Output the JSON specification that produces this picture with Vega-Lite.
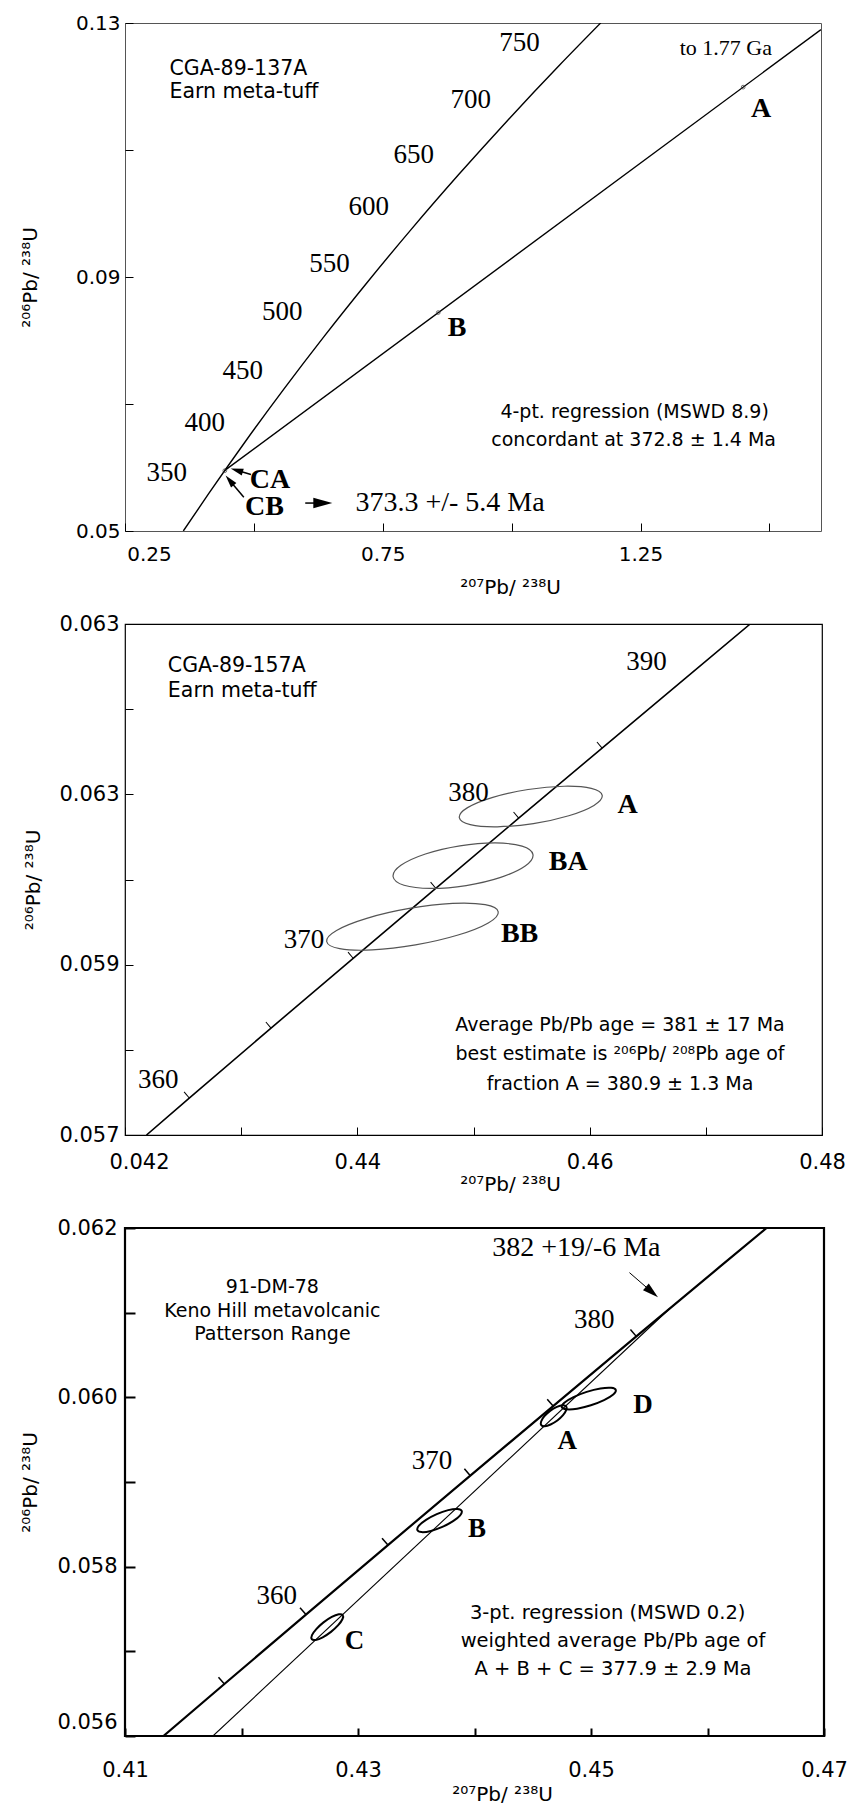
{
  "$schema": "https://vega.github.io/schema/vega-lite/v6.json",
  "background": "white",
  "padding": {"left": 18, "top": 12, "right": 5, "bottom": 5},
  "bounds": "flush",
  "spacing": 93,
  "config": {
    "axis": {"domain": false, "grid": false, "labelFont": "DejaVu Sans", "labelColor": "black", "tickColor": "black", "titleFont": "DejaVu Sans", "titleFontWeight": "normal", "titleColor": "black", "labelFlush": false, "labelOverlap": false, "titleFontSize": 20, "labelFontSize": 21, "tickWidth": 1}
  },
  "datasets": {
    "p1c": [
      {"age": 314.5, "x": 0.3631, "y": 0.0500}, {"age": 350, "x": 0.4116, "y": 0.05580}, {"age": 400, "x": 0.4828, "y": 0.06402},
      {"age": 450, "x": 0.5577, "y": 0.07230}, {"age": 500, "x": 0.6363, "y": 0.08065}, {"age": 550, "x": 0.7189, "y": 0.08906},
      {"age": 600, "x": 0.8056, "y": 0.09754}, {"age": 650, "x": 0.8968, "y": 0.10609}, {"age": 700, "x": 0.9925, "y": 0.11470},
      {"age": 750, "x": 1.0931, "y": 0.12338}, {"age": 788, "x": 1.1729, "y": 0.13002}
    ],
    "p1d": [{"x": 0.4436, "y": 0.05954}, {"x": 1.60, "y": 0.12896}],
    "p1p": [{"f": "A", "x": 1.449, "y": 0.1199}, {"f": "B", "x": 0.8576, "y": 0.0844}, {"f": "C", "x": 0.4436, "y": 0.0595}],
    "p1a": [
      {"id": "CA", "x": 0.4943, "y": 0.0589, "x2": 0.4667, "y2": 0.05956},
      {"id": "CB", "x": 0.4805, "y": 0.0553, "x2": 0.4530, "y2": 0.05796},
      {"id": "M", "x": 0.5996, "y": 0.0544, "x2": 0.6337, "y2": 0.0544}
    ],
    "p1t": [
      {"k": "name", "x": 0.3362, "y": 0.1227, "t": "CGA-89-137A"},
      {"k": "name", "x": 0.3362, "y": 0.1192, "t": "Earn meta-tuff"},
      {"k": "note", "x": 1.2385, "y": 0.0688, "t": "4-pt. regression (MSWD 8.9)"},
      {"k": "note", "x": 1.2366, "y": 0.0643, "t": "concordant at 372.8 ± 1.4 Ma"},
      {"k": "age", "x": 1.0154, "y": 0.1269, "t": "750"},
      {"k": "age", "x": 0.9206, "y": 0.1178, "t": "700"},
      {"k": "age", "x": 0.8101, "y": 0.1092, "t": "650"},
      {"k": "age", "x": 0.7227, "y": 0.1010, "t": "600"},
      {"k": "age", "x": 0.6469, "y": 0.0921, "t": "550"},
      {"k": "age", "x": 0.5552, "y": 0.0845, "t": "500"},
      {"k": "age", "x": 0.4785, "y": 0.0752, "t": "450"},
      {"k": "age", "x": 0.4048, "y": 0.0670, "t": "400"},
      {"k": "age", "x": 0.3310, "y": 0.0591, "t": "350"},
      {"k": "small", "x": 1.4155, "y": 0.1260, "t": "to 1.77 Ga"},
      {"k": "frac", "x": 1.4838, "y": 0.1164, "t": "A"},
      {"k": "frac", "x": 0.8943, "y": 0.0819, "t": "B"},
      {"k": "frac", "x": 0.5311, "y": 0.0580, "t": "CA"},
      {"k": "frac", "x": 0.5206, "y": 0.0538, "t": "CB"},
      {"k": "big", "x": 0.8805, "y": 0.0544, "t": "373.3 +/- 5.4 Ma"}
    ],
    "p2c": [
      {"age": 357.4, "x": 0.42185, "y": 0.0570}, {"age": 360, "x": 0.42553, "y": 0.057434}, {"age": 365, "x": 0.43257, "y": 0.058255},
      {"age": 370, "x": 0.43964, "y": 0.059075}, {"age": 375, "x": 0.44675, "y": 0.059897}, {"age": 380, "x": 0.45389, "y": 0.06072},
      {"age": 385, "x": 0.46107, "y": 0.061543}, {"age": 390, "x": 0.46828, "y": 0.062367}, {"age": 393.8, "x": 0.47382, "y": 0.0630}
    ],
    "p2e": [
      {"e": "A", "i": 0, "x": 0.46108, "y": 0.060987}, {"e": "A", "i": 1, "x": 0.46014, "y": 0.061070}, {"e": "A", "i": 2, "x": 0.45781, "y": 0.061095},
      {"e": "A", "i": 3, "x": 0.45470, "y": 0.061057}, {"e": "A", "i": 4, "x": 0.45166, "y": 0.060965}, {"e": "A", "i": 5, "x": 0.44949, "y": 0.060844},
      {"e": "A", "i": 6, "x": 0.44878, "y": 0.060727}, {"e": "A", "i": 7, "x": 0.44972, "y": 0.060645}, {"e": "A", "i": 8, "x": 0.45205, "y": 0.060619},
      {"e": "A", "i": 9, "x": 0.45516, "y": 0.060657}, {"e": "A", "i": 10, "x": 0.45820, "y": 0.060749}, {"e": "A", "i": 11, "x": 0.46037, "y": 0.060870},
      {"e": "BA", "i": 0, "x": 0.45512, "y": 0.060293}, {"e": "BA", "i": 1, "x": 0.45418, "y": 0.060392}, {"e": "BA", "i": 2, "x": 0.45188, "y": 0.060429},
      {"e": "BA", "i": 3, "x": 0.44883, "y": 0.060395}, {"e": "BA", "i": 4, "x": 0.44586, "y": 0.060299}, {"e": "BA", "i": 5, "x": 0.44375, "y": 0.060166},
      {"e": "BA", "i": 6, "x": 0.44308, "y": 0.060032}, {"e": "BA", "i": 7, "x": 0.44402, "y": 0.059932}, {"e": "BA", "i": 8, "x": 0.44632, "y": 0.059895},
      {"e": "BA", "i": 9, "x": 0.44937, "y": 0.059929}, {"e": "BA", "i": 10, "x": 0.45234, "y": 0.060025}, {"e": "BA", "i": 11, "x": 0.45445, "y": 0.060158},
      {"e": "BB", "i": 0, "x": 0.45213, "y": 0.059621}, {"e": "BB", "i": 1, "x": 0.45100, "y": 0.059704}, {"e": "BB", "i": 2, "x": 0.44820, "y": 0.059719},
      {"e": "BB", "i": 3, "x": 0.44447, "y": 0.059660}, {"e": "BB", "i": 4, "x": 0.44081, "y": 0.059544}, {"e": "BB", "i": 5, "x": 0.43821, "y": 0.059402},
      {"e": "BB", "i": 6, "x": 0.43736, "y": 0.059272}, {"e": "BB", "i": 7, "x": 0.43848, "y": 0.059188}, {"e": "BB", "i": 8, "x": 0.44128, "y": 0.059173},
      {"e": "BB", "i": 9, "x": 0.44501, "y": 0.059232}, {"e": "BB", "i": 10, "x": 0.44867, "y": 0.059348}, {"e": "BB", "i": 11, "x": 0.45127, "y": 0.059490}
    ],
    "p2t": [
      {"k": "name", "x": 0.42369, "y": 0.062508, "t": "CGA-89-157A"},
      {"k": "name", "x": 0.42369, "y": 0.062213, "t": "Earn meta-tuff"},
      {"k": "note", "x": 0.46261, "y": 0.058295, "t": "Average Pb/Pb age = 381 ± 17 Ma"},
      {"k": "note", "x": 0.46261, "y": 0.057948, "t": "best estimate is ²⁰⁶Pb/ ²⁰⁸Pb age of"},
      {"k": "note", "x": 0.46261, "y": 0.057599, "t": "fraction A = 380.9 ± 1.3 Ma"},
      {"k": "age", "x": 0.46489, "y": 0.062551, "t": "390"},
      {"k": "age", "x": 0.44956, "y": 0.061010, "t": "380"},
      {"k": "age", "x": 0.43541, "y": 0.059285, "t": "370"},
      {"k": "age", "x": 0.42287, "y": 0.057642, "t": "360"},
      {"k": "frac", "x": 0.46326, "y": 0.060879, "t": "A"},
      {"k": "frac", "x": 0.45815, "y": 0.060206, "t": "BA"},
      {"k": "frac", "x": 0.45397, "y": 0.059360, "t": "BB"}
    ],
    "p3c": [
      {"age": 351.25, "x": 0.4133, "y": 0.0560}, {"age": 355, "x": 0.41853, "y": 0.056614}, {"age": 360, "x": 0.42553, "y": 0.057434},
      {"age": 365, "x": 0.43257, "y": 0.058255}, {"age": 370, "x": 0.43964, "y": 0.059075}, {"age": 375, "x": 0.44675, "y": 0.059897},
      {"age": 380, "x": 0.45389, "y": 0.06072}, {"age": 385, "x": 0.46107, "y": 0.061543}, {"age": 387.78, "x": 0.46507, "y": 0.0620}
    ],
    "p3d": [{"x": 0.41755, "y": 0.056}, {"x": 0.45676, "y": 0.061049}],
    "p3e": [
      {"e": "C", "i": 0, "x": 0.42869, "y": 0.057429}, {"e": "C", "i": 1, "x": 0.42835, "y": 0.057437}, {"e": "C", "i": 2, "x": 0.42775, "y": 0.057406},
      {"e": "C", "i": 3, "x": 0.42704, "y": 0.057342}, {"e": "C", "i": 4, "x": 0.42642, "y": 0.057263}, {"e": "C", "i": 5, "x": 0.42605, "y": 0.057191},
      {"e": "C", "i": 6, "x": 0.42603, "y": 0.057143}, {"e": "C", "i": 7, "x": 0.42637, "y": 0.057135}, {"e": "C", "i": 8, "x": 0.42697, "y": 0.057166},
      {"e": "C", "i": 9, "x": 0.42768, "y": 0.057230}, {"e": "C", "i": 10, "x": 0.42830, "y": 0.057309}, {"e": "C", "i": 11, "x": 0.42867, "y": 0.057382},
      {"e": "B", "i": 0, "x": 0.43890, "y": 0.058659}, {"e": "B", "i": 1, "x": 0.43853, "y": 0.058682}, {"e": "B", "i": 2, "x": 0.43774, "y": 0.058668},
      {"e": "B", "i": 3, "x": 0.43676, "y": 0.058621}, {"e": "B", "i": 4, "x": 0.43584, "y": 0.058553}, {"e": "B", "i": 5, "x": 0.43523, "y": 0.058484},
      {"e": "B", "i": 6, "x": 0.43510, "y": 0.058431}, {"e": "B", "i": 7, "x": 0.43547, "y": 0.058408}, {"e": "B", "i": 8, "x": 0.43626, "y": 0.058422},
      {"e": "B", "i": 9, "x": 0.43724, "y": 0.058469}, {"e": "B", "i": 10, "x": 0.43816, "y": 0.058537}, {"e": "B", "i": 11, "x": 0.43877, "y": 0.058606},
      {"e": "A", "i": 0, "x": 0.44787, "y": 0.059894}, {"e": "A", "i": 1, "x": 0.44757, "y": 0.059907}, {"e": "A", "i": 2, "x": 0.44707, "y": 0.059887},
      {"e": "A", "i": 3, "x": 0.44649, "y": 0.059840}, {"e": "A", "i": 4, "x": 0.44600, "y": 0.059777}, {"e": "A", "i": 5, "x": 0.44572, "y": 0.059715},
      {"e": "A", "i": 6, "x": 0.44573, "y": 0.059672}, {"e": "A", "i": 7, "x": 0.44603, "y": 0.059659}, {"e": "A", "i": 8, "x": 0.44653, "y": 0.059679},
      {"e": "A", "i": 9, "x": 0.44711, "y": 0.059726}, {"e": "A", "i": 10, "x": 0.44760, "y": 0.059789}, {"e": "A", "i": 11, "x": 0.44788, "y": 0.059851},
      {"e": "D", "i": 0, "x": 0.45213, "y": 0.060086}, {"e": "D", "i": 1, "x": 0.45173, "y": 0.060112}, {"e": "D", "i": 2, "x": 0.45081, "y": 0.060104},
      {"e": "D", "i": 3, "x": 0.44963, "y": 0.060064}, {"e": "D", "i": 4, "x": 0.44850, "y": 0.060003}, {"e": "D", "i": 5, "x": 0.44771, "y": 0.059937},
      {"e": "D", "i": 6, "x": 0.44749, "y": 0.059884}, {"e": "D", "i": 7, "x": 0.44789, "y": 0.059859}, {"e": "D", "i": 8, "x": 0.44881, "y": 0.059866},
      {"e": "D", "i": 9, "x": 0.44999, "y": 0.059906}, {"e": "D", "i": 10, "x": 0.45112, "y": 0.059967}, {"e": "D", "i": 11, "x": 0.45191, "y": 0.060033}
    ],
    "p3a": [{"x": 0.45330, "y": 0.061473, "x2": 0.45523, "y2": 0.061243}],
    "p3t": [
      {"k": "name", "x": 0.42265, "y": 0.061301, "t": "91-DM-78"},
      {"k": "name", "x": 0.42265, "y": 0.061015, "t": "Keno Hill metavolcanic"},
      {"k": "name", "x": 0.42265, "y": 0.060743, "t": "Patterson Range"},
      {"k": "note", "x": 0.45143, "y": 0.057453, "t": "3-pt. regression (MSWD 0.2)"},
      {"k": "note", "x": 0.45189, "y": 0.057120, "t": "weighted average Pb/Pb age of"},
      {"k": "note", "x": 0.45189, "y": 0.056786, "t": "A + B + C = 377.9 ± 2.9 Ma"},
      {"k": "age", "x": 0.45028, "y": 0.060910, "t": "380"},
      {"k": "age", "x": 0.43635, "y": 0.059250, "t": "370"},
      {"k": "age", "x": 0.42302, "y": 0.057658, "t": "360"},
      {"k": "frac", "x": 0.45446, "y": 0.059910, "t": "D"},
      {"k": "frac", "x": 0.44796, "y": 0.059480, "t": "A"},
      {"k": "frac", "x": 0.44021, "y": 0.058440, "t": "B"},
      {"k": "frac", "x": 0.42971, "y": 0.057120, "t": "C"},
      {"k": "big", "x": 0.44875, "y": 0.061769, "t": "382 +19/-6 Ma"}
    ]
  },
  "vconcat": [
    {
      "width": 696, "height": 508,
      "view": {"stroke": "#555", "strokeWidth": 1},
      "encoding": {
        "x": {"field": "x", "type": "quantitative", "scale": {"domain": [0.25, 1.6], "nice": false, "zero": false},
          "axis": {"values": [0.25, 0.5, 0.75, 1, 1.25, 1.5], "labelExpr": "datum.value == 0.25 ? '0.25' : datum.value == 0.75 ? '0.75' : datum.value == 1.25 ? '1.25' : ''",
            "labelFontSize": 20, "tickSize": -8, "labelPadding": 21, "labelOffset": {"condition": {"test": "datum.value == 0.25", "value": 24}, "value": 0},
            "title": "²⁰⁷Pb/ ²³⁸U", "titleX": 385, "titleY": 56, "titleBaseline": "middle"}},
        "y": {"field": "y", "type": "quantitative", "scale": {"domain": [0.05, 0.13], "nice": false, "zero": false},
          "axis": {"values": [0.05, 0.07, 0.09, 0.11, 0.13], "labelExpr": "datum.value == 0.07 || datum.value == 0.11 ? '' : format(datum.value, '.2f')",
            "labelFontSize": 20, "tickSize": -8, "labelPadding": 13, "title": "²⁰⁶Pb/ ²³⁸U", "titleX": -95, "titleBaseline": "middle"}}
      },
      "layer": [
        {"data": {"name": "p1c"}, "mark": {"type": "line", "color": "black", "strokeWidth": 1.4, "interpolate": "monotone", "clip": true}},
        {"data": {"name": "p1d"}, "mark": {"type": "line", "color": "black", "strokeWidth": 1.4, "clip": true}},
        {"data": {"name": "p1p"}, "mark": {"type": "point", "shape": "circle", "size": 14, "filled": false, "stroke": "#333", "strokeWidth": 1}},
        {"data": {"name": "p1a"}, "mark": {"type": "rule", "color": "black", "strokeWidth": 1.5}, "encoding": {"x2": {"field": "x2"}, "y2": {"field": "y2"}}},
        {"data": {"name": "p1a"}, "transform": [{"filter": "datum.id == 'CA'"}], "mark": {"type": "point", "shape": "M0,-1L0.55,1L-0.55,1Z", "filled": true, "color": "black", "opacity": 1, "size": 160, "angle": 287},
          "encoding": {"x": {"field": "x2"}, "y": {"field": "y2"}}},
        {"data": {"name": "p1a"}, "transform": [{"filter": "datum.id == 'CB'"}], "mark": {"type": "point", "shape": "M0,-1L0.55,1L-0.55,1Z", "filled": true, "color": "black", "opacity": 1, "size": 160, "angle": 320},
          "encoding": {"x": {"field": "x2"}, "y": {"field": "y2"}}},
        {"data": {"name": "p1a"}, "transform": [{"filter": "datum.id == 'M'"}], "mark": {"type": "point", "shape": "M0,-1L0.55,1L-0.55,1Z", "filled": true, "color": "black", "opacity": 1, "size": 361, "angle": 90},
          "encoding": {"x": {"field": "x2"}, "y": {"field": "y2"}}},
        {"data": {"name": "p1t"}, "transform": [{"filter": "datum.k == 'name'"}], "mark": {"type": "text", "font": "DejaVu Sans", "fontSize": 20.5, "align": "left", "baseline": "middle", "color": "black"}, "encoding": {"text": {"field": "t"}}},
        {"data": {"name": "p1t"}, "transform": [{"filter": "datum.k == 'note'"}], "mark": {"type": "text", "font": "DejaVu Sans", "fontSize": 19, "align": "center", "baseline": "middle", "color": "black"}, "encoding": {"text": {"field": "t"}}},
        {"data": {"name": "p1t"}, "transform": [{"filter": "datum.k == 'age'"}], "mark": {"type": "text", "font": "Liberation Serif", "fontSize": 27, "align": "center", "baseline": "middle", "color": "black"}, "encoding": {"text": {"field": "t"}}},
        {"data": {"name": "p1t"}, "transform": [{"filter": "datum.k == 'small'"}], "mark": {"type": "text", "font": "Liberation Serif", "fontSize": 22, "align": "center", "baseline": "middle", "color": "black"}, "encoding": {"text": {"field": "t"}}},
        {"data": {"name": "p1t"}, "transform": [{"filter": "datum.k == 'frac'"}], "mark": {"type": "text", "font": "Liberation Serif", "fontSize": 28, "fontWeight": "bold", "align": "center", "baseline": "middle", "color": "black"}, "encoding": {"text": {"field": "t"}}},
        {"data": {"name": "p1t"}, "transform": [{"filter": "datum.k == 'big'"}], "mark": {"type": "text", "font": "Liberation Serif", "fontSize": 28, "align": "center", "baseline": "middle", "color": "black"}, "encoding": {"text": {"field": "t"}}}
      ]
    },
    {
      "width": 697, "height": 511,
      "view": {"stroke": "black", "strokeWidth": 1.2},
      "encoding": {
        "x": {"field": "x", "type": "quantitative", "scale": {"domain": [0.42, 0.48], "nice": false, "zero": false},
          "axis": {"values": [0.42, 0.43, 0.44, 0.45, 0.46, 0.47, 0.48], "labelExpr": "datum.value == 0.42 ? '0.042' : datum.value == 0.44 ? '0.44' : datum.value == 0.46 ? '0.46' : datum.value == 0.48 ? '0.48' : ''",
            "tickSize": -8, "labelPadding": 24, "labelOffset": {"condition": {"test": "datum.value == 0.42", "value": 14}, "value": 0},
            "title": "²⁰⁷Pb/ ²³⁸U", "titleX": 385, "titleY": 49, "titleBaseline": "middle"}},
        "y": {"field": "y", "type": "quantitative", "scale": {"domain": [0.057, 0.063], "nice": false, "zero": false},
          "axis": {"values": [0.057, 0.058, 0.059, 0.06, 0.061, 0.062, 0.063], "labelExpr": "datum.value == 0.057 ? '0.057' : datum.value == 0.059 ? '0.059' : (datum.value == 0.061 || datum.value == 0.063) ? '0.063' : ''",
            "tickSize": -8, "labelPadding": 14, "title": "²⁰⁶Pb/ ²³⁸U", "titleX": -92, "titleBaseline": "middle"}}
      },
      "layer": [
        {"data": {"name": "p2c"}, "mark": {"type": "line", "color": "black", "strokeWidth": 1.6, "clip": true}},
        {"data": {"name": "p2c"}, "transform": [{"filter": "datum.age >= 360 && datum.age <= 385"}], "mark": {"type": "point", "shape": "M0,0L0,-1", "filled": false, "stroke": "black", "strokeWidth": 1, "opacity": 1, "size": 256, "angle": 320}},
        {"data": {"name": "p2e"}, "mark": {"type": "line", "color": "#555", "strokeWidth": 1.2, "interpolate": "cardinal-closed"}, "encoding": {"detail": {"field": "e"}, "order": {"field": "i"}}},
        {"data": {"name": "p2t"}, "transform": [{"filter": "datum.k == 'name'"}], "mark": {"type": "text", "font": "DejaVu Sans", "fontSize": 20.5, "align": "left", "baseline": "middle", "color": "black"}, "encoding": {"text": {"field": "t"}}},
        {"data": {"name": "p2t"}, "transform": [{"filter": "datum.k == 'note'"}], "mark": {"type": "text", "font": "DejaVu Sans", "fontSize": 19, "align": "center", "baseline": "middle", "color": "black"}, "encoding": {"text": {"field": "t"}}},
        {"data": {"name": "p2t"}, "transform": [{"filter": "datum.k == 'age'"}], "mark": {"type": "text", "font": "Liberation Serif", "fontSize": 27, "align": "center", "baseline": "middle", "color": "black"}, "encoding": {"text": {"field": "t"}}},
        {"data": {"name": "p2t"}, "transform": [{"filter": "datum.k == 'frac'"}], "mark": {"type": "text", "font": "Liberation Serif", "fontSize": 28, "fontWeight": "bold", "align": "center", "baseline": "middle", "color": "black"}, "encoding": {"text": {"field": "t"}}}
      ]
    },
    {
      "width": 699, "height": 508,
      "view": {"stroke": "black", "strokeWidth": 2.2},
      "encoding": {
        "x": {"field": "x", "type": "quantitative", "scale": {"domain": [0.41, 0.47], "nice": false, "zero": false},
          "axis": {"values": [0.41, 0.42, 0.43, 0.44, 0.45, 0.46, 0.47], "labelExpr": "datum.value == 0.41 ? '0.41' : datum.value == 0.43 ? '0.43' : datum.value == 0.45 ? '0.45' : datum.value == 0.47 ? '0.47' : ''",
            "tickSize": -8, "tickWidth": 2, "labelPadding": 31,
            "title": "²⁰⁷Pb/ ²³⁸U", "titleX": 377, "titleY": 58, "titleBaseline": "middle"}},
        "y": {"field": "y", "type": "quantitative", "scale": {"domain": [0.056, 0.062], "nice": false, "zero": false},
          "axis": {"values": [0.056, 0.057, 0.058, 0.059, 0.06, 0.061, 0.062], "labelExpr": "(datum.value == 0.056 || datum.value == 0.058 || datum.value == 0.06 || datum.value == 0.062) ? format(datum.value, '.3f') : ''",
            "tickSize": -10, "tickWidth": 2, "labelPadding": 18, "labelOffset": {"condition": {"test": "datum.value == 0.056", "value": -14}, "value": 0},
            "title": "²⁰⁶Pb/ ²³⁸U", "titleX": -95, "titleBaseline": "middle"}}
      },
      "layer": [
        {"data": {"name": "p3c"}, "mark": {"type": "line", "color": "black", "strokeWidth": 2.2, "clip": true}},
        {"data": {"name": "p3d"}, "mark": {"type": "line", "color": "black", "strokeWidth": 1.1, "clip": true}},
        {"data": {"name": "p3c"}, "transform": [{"filter": "datum.age >= 355 && datum.age <= 380"}], "mark": {"type": "point", "shape": "M0,0L0,-1", "filled": false, "stroke": "black", "strokeWidth": 1.5, "opacity": 1, "size": 324, "angle": 319}},
        {"data": {"name": "p3e"}, "mark": {"type": "line", "color": "black", "strokeWidth": 2, "interpolate": "cardinal-closed"}, "encoding": {"detail": {"field": "e"}, "order": {"field": "i"}}},
        {"data": {"name": "p3a"}, "mark": {"type": "rule", "color": "black", "strokeWidth": 1}, "encoding": {"x2": {"field": "x2"}, "y2": {"field": "y2"}}},
        {"data": {"name": "p3a"}, "mark": {"type": "point", "shape": "M0,-1L0.55,1L-0.55,1Z", "filled": true, "color": "black", "opacity": 1, "size": 256, "angle": 131},
          "encoding": {"x": {"field": "x2"}, "y": {"field": "y2"}}},
        {"data": {"name": "p3t"}, "transform": [{"filter": "datum.k == 'name'"}], "mark": {"type": "text", "font": "DejaVu Sans", "fontSize": 19, "align": "center", "baseline": "middle", "color": "black"}, "encoding": {"text": {"field": "t"}}},
        {"data": {"name": "p3t"}, "transform": [{"filter": "datum.k == 'note'"}], "mark": {"type": "text", "font": "DejaVu Sans", "fontSize": 19.5, "align": "center", "baseline": "middle", "color": "black"}, "encoding": {"text": {"field": "t"}}},
        {"data": {"name": "p3t"}, "transform": [{"filter": "datum.k == 'age'"}], "mark": {"type": "text", "font": "Liberation Serif", "fontSize": 27, "align": "center", "baseline": "middle", "color": "black"}, "encoding": {"text": {"field": "t"}}},
        {"data": {"name": "p3t"}, "transform": [{"filter": "datum.k == 'frac'"}], "mark": {"type": "text", "font": "Liberation Serif", "fontSize": 27, "fontWeight": "bold", "align": "center", "baseline": "middle", "color": "black"}, "encoding": {"text": {"field": "t"}}},
        {"data": {"name": "p3t"}, "transform": [{"filter": "datum.k == 'big'"}], "mark": {"type": "text", "font": "Liberation Serif", "fontSize": 28, "align": "center", "baseline": "middle", "color": "black"}, "encoding": {"text": {"field": "t"}}}
      ]
    }
  ]
}
